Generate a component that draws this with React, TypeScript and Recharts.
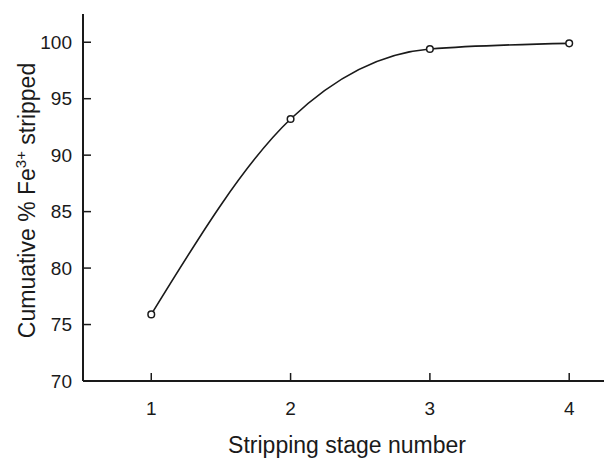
import { LineChart, Line, XAxis, YAxis, Label } from 'recharts'

const stages = [1, 2, 3, 4]
const stripped = [75.9, 93.2, 99.4, 99.9]
const xTicks = [1, 2, 3, 4]
const yTicks = [70, 75, 80, 85, 90, 95, 100]

const data = stages.map((s, i) => ({ stage: s, pct: stripped[i] }))

const FONT = '"Liberation Sans", Arial, sans-serif'
const INK = '#1a1a1a'
const TICK_LEN = 8
const Y_GAP = 11
const X_GAP = 21

// inward ticks: recharts only draws outward ones, so draw the mark with the label
function YTick(props: any) {
  const { x, y, payload } = props
  const axisX = x + Y_GAP
  return (
    <g>
      <line x1={axisX} x2={axisX + TICK_LEN} y1={y} y2={y} stroke={INK} strokeWidth={1.5} />
      <text x={x} y={y} dy="0.355em" textAnchor="end" fill={INK} fontSize={19} fontFamily={FONT}>
        {payload.value}
      </text>
    </g>
  )
}

function XTick(props: any) {
  const { x, y, payload } = props
  const axisY = y - X_GAP
  return (
    <g>
      <line x1={x} x2={x} y1={axisY} y2={axisY - TICK_LEN} stroke={INK} strokeWidth={1.5} />
      <text x={x} y={y} dy="0.71em" textAnchor="middle" fill={INK} fontSize={19} fontFamily={FONT}>
        {payload.value}
      </text>
    </g>
  )
}

function YTitle(props: any) {
  const vb = props.viewBox || {}
  const cx = (vb.x ?? 0) + 35
  const cy = (vb.y ?? 0) + (vb.height ?? 0) / 2 + 3
  return (
    <text
      x={cx}
      y={cy}
      transform={`rotate(-90, ${cx}, ${cy})`}
      textAnchor="middle"
      fill={INK}
      fontFamily={FONT}
      fontSize={23}
    >
      <tspan>Cumuative % Fe</tspan>
      <tspan fontSize={15} dy={-9}>3+</tspan>
      <tspan dy={9}> stripped</tspan>
    </text>
  )
}

export default function App() {
  return (
    <div
      style={{
        position: 'absolute',
        left: 0,
        top: 0,
        width: 604,
        height: 459,
        overflow: 'hidden',
        background: '#fff',
      }}
    >
      <LineChart
        width={620}
        height={459}
        data={data}
        margin={{ top: 14, right: 9, left: 0, bottom: 0 }}
      >
        <XAxis
          dataKey="stage"
          type="number"
          domain={[0.51, 4.3]}
          ticks={xTicks}
          height={78}
          axisLine={{ stroke: INK, strokeWidth: 2 }}
          tickLine={false}
          tickSize={1}
          tickMargin={X_GAP - 1}
          tick={<XTick />}
        >
          <Label
            value="Stripping stage number"
            position="insideBottom"
            offset={6}
            fill={INK}
            fontSize={23}
            fontFamily={FONT}
          />
        </XAxis>
        <XAxis
          xAxisId="top"
          orientation="top"
          type="number"
          domain={[0.51, 4.3]}
          height={0}
          tick={false}
          tickLine={false}
          axisLine={{ stroke: INK, strokeWidth: 2 }}
        />
        <YAxis
          type="number"
          domain={[70, 102.5]}
          ticks={yTicks}
          width={83}
          allowDataOverflow
          axisLine={{ stroke: INK, strokeWidth: 2 }}
          tickLine={false}
          tickSize={1}
          tickMargin={Y_GAP - 1}
          tick={<YTick />}
        >
          <Label content={<YTitle />} />
        </YAxis>
        <Line
          type="monotone"
          dataKey="pct"
          stroke={INK}
          strokeWidth={1.6}
          dot={{ r: 3.3, fill: '#fff', stroke: INK, strokeWidth: 1.5 }}
          isAnimationActive={false}
        />
      </LineChart>
    </div>
  )
}
